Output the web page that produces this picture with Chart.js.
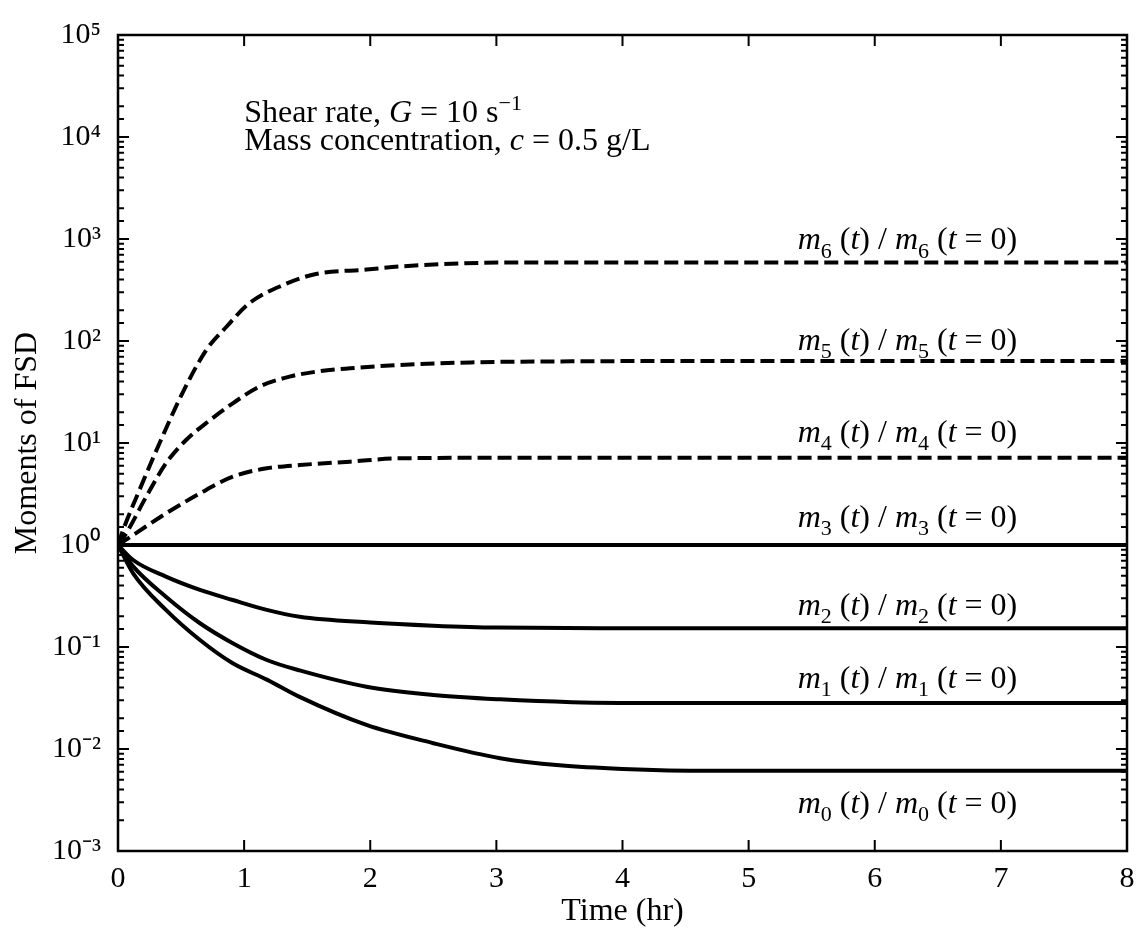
<!DOCTYPE html>
<html>
<head>
<meta charset="utf-8">
<script src="https://cdn.jsdelivr.net/npm/chart.js@4.4.1/dist/chart.umd.min.js"></script>
<style>
  html, body { margin:0; padding:0; background:#fff; }
  canvas { display:block; }
</style>
</head>
<body>
<canvas id="chart" width="1136" height="939"></canvas>
<script>
// time (hr) and moment ratio m_k(t)/m_k(0)
const m6T = [0, 0.04, 0.17, 0.33, 0.51, 0.70, 0.86, 1.04, 1.31, 1.57, 1.97, 2.23, 2.7, 3.2, 4, 5, 6, 7, 8];
const m6V = [1, 1.40, 3.46, 10.0, 30.7, 81.7, 138, 234, 354, 454, 501, 537, 575, 589, 589, 589, 589, 589, 589];
const m5T = [0, 0.065, 0.224, 0.38, 0.54, 0.73, 0.91, 1.12, 1.36, 1.57, 1.84, 2.23, 2.8, 3.5, 5, 8];
const m5V = [1, 1.30, 2.98, 6.31, 10.7, 16.8, 24.5, 35.6, 44.7, 50.0, 54.0, 58.2, 61.7, 63.1, 63.7, 63.7];
const m4T = [0, 0.14, 0.38, 0.65, 0.91, 1.18, 1.44, 1.84, 2.23, 3, 4, 8];
const m4V = [1, 1.30, 2.04, 3.21, 4.68, 5.65, 6.08, 6.56, 7.08, 7.16, 7.16, 7.16];
const m3T = [0, 8];
const m3V = [1, 1];
const m2T = [0, 0.12, 0.38, 0.65, 0.91, 1.18, 1.44, 2, 2.5, 3, 4, 8];
const m2V = [1, 0.713, 0.490, 0.363, 0.289, 0.231, 0.198, 0.174, 0.162, 0.155, 0.153, 0.153];
const m1T = [0, 0.12, 0.38, 0.65, 0.91, 1.18, 1.44, 1.97, 2.5, 3.03, 3.6, 4.5, 8];
const m1V = [1, 0.617, 0.311, 0.171, 0.109, 0.0746, 0.0589, 0.0408, 0.0339, 0.0307, 0.0288, 0.0282, 0.0282];
const m0T = [0, 0.12, 0.38, 0.65, 0.91, 1.18, 1.44, 1.97, 2.5, 3.03, 3.5, 4, 4.7, 8];
const m0V = [1, 0.528, 0.231, 0.117, 0.0692, 0.0479, 0.0324, 0.0172, 0.0114, 0.00813, 0.00692, 0.00638, 0.00612, 0.00612];

const xTicks = [0, 1, 2, 3, 4, 5, 6, 7, 8];
const yMin = 1e-3, yMax = 1e5;

const SERIF = "'Liberation Serif', 'Times New Roman', serif";
const tickFont = { family: SERIF, size: 30 };
const titleFont = { family: SERIF, size: 32 };
const TXT = 32;
const SUP = { '-':'\u207B', '0':'\u2070', '1':'\u00B9', '2':'\u00B2', '3':'\u00B3', '4':'\u2074', '5':'\u2075' };

const pts = (T, V) => T.map((t, i) => ({ x: t, y: V[i] }));
const series = [
  { k: 6, data: pts(m6T, m6V), dash: true,  lab: 794 },
  { k: 5, data: pts(m5T, m5V), dash: true,  lab: 81.7 },
  { k: 4, data: pts(m4T, m4V), dash: true,  lab: 10.2 },
  { k: 3, data: pts(m3T, m3V), dash: false, lab: 1.5 },
  { k: 2, data: pts(m2T, m2V), dash: false, lab: 0.206 },
  { k: 1, data: pts(m1T, m1V), dash: false, lab: 0.0396 },
  { k: 0, data: pts(m0T, m0V), dash: false, lab: 0.00236 },
];

// rich text: segments of {t, i (italic), sub, sup}
function segFont(s, size){
  const sz = (s.sub || s.sup) ? Math.round(size*0.68) : size;
  return (s.i ? 'italic ' : '') + sz + 'px ' + SERIF;
}
function richWidth(ctx, segs, size){
  let w = 0;
  segs.forEach(s => { ctx.font = segFont(s, size); w += ctx.measureText(s.t).width; });
  return w;
}
function drawRich(ctx, segs, x, y, size, align){
  if (align === 'right') x -= richWidth(ctx, segs, size);
  ctx.textBaseline = 'alphabetic';
  ctx.textAlign = 'left';
  segs.forEach(s => {
    ctx.font = segFont(s, size);
    let dy = 0;
    if (s.sub) dy = size*0.26;
    if (s.sup) dy = -size*0.38;
    ctx.fillText(s.t, x, y + dy);
    x += ctx.measureText(s.t).width;
  });
}
function momentLabel(k){
  return [
    { t:'m', i:1 }, { t:String(k), sub:1 }, { t:' (' }, { t:'t', i:1 }, { t:') / ' },
    { t:'m', i:1 }, { t:String(k), sub:1 }, { t:' (' }, { t:'t', i:1 }, { t:' = 0)' }
  ];
}
const noteLines = [
  { x: 1.0, y: 14000, segs: [{ t:'Shear rate, ' }, { t:'G', i:1 }, { t:' = 10 s' }, { t:'\u22121', sup:1 }] },
  { x: 1.0, y: 7460,  segs: [{ t:'Mass concentration, ' }, { t:'c', i:1 }, { t:' = 0.5 g/L' }] },
];
const labelRightT = 7.13;

const framePlugin = {
  id: 'frame',
  afterDatasetsDraw(chart){
    const { ctx, chartArea: a, scales: { x, y } } = chart;
    ctx.save();
    ctx.strokeStyle = '#000';
    ctx.fillStyle = '#000';
    ctx.lineWidth = 2.5;
    ctx.strokeRect(a.left, a.top, a.right - a.left, a.bottom - a.top);
    ctx.lineWidth = 2;
    ctx.beginPath();
    x.ticks.forEach(t => {
      const px = x.getPixelForValue(t.value);
      ctx.moveTo(px, a.bottom); ctx.lineTo(px, a.bottom - 11);
      ctx.moveTo(px, a.top);    ctx.lineTo(px, a.top + 11);
    });
    y.ticks.forEach(t => {
      const lg = Math.log10(t.value);
      const major = Math.abs(lg - Math.round(lg)) < 1e-9;
      const len = major ? 11 : 6;
      const py = y.getPixelForValue(t.value);
      ctx.moveTo(a.left, py);  ctx.lineTo(a.left + len, py);
      ctx.moveTo(a.right, py); ctx.lineTo(a.right - len, py);
    });
    ctx.stroke();

    noteLines.forEach(n => drawRich(ctx, n.segs, x.getPixelForValue(n.x), y.getPixelForValue(n.y), TXT, 'left'));
    const xr = x.getPixelForValue(labelRightT);
    series.forEach(s => drawRich(ctx, momentLabel(s.k), xr, y.getPixelForValue(s.lab), TXT, 'right'));
    ctx.restore();
  }
};

new Chart(document.getElementById('chart'), {
  type: 'line',
  data: {
    datasets: series.map(s => ({
      label: 'm' + s.k,
      data: s.data,
      borderColor: '#000',
      borderWidth: 4,
      borderDash: s.dash ? [14, 6] : [],
      pointRadius: 0,
      cubicInterpolationMode: 'monotone',
      fill: false,
    }))
  },
  options: {
    responsive: false,
    animation: false,
    layout: { padding: { top: 35, right: 0, left: 0, bottom: 0 } },
    plugins: { legend: { display: false }, tooltip: { enabled: false } },
    scales: {
      x: {
        type: 'linear', min: 0, max: 8,
        afterBuildTicks: s => { s.ticks = xTicks.map(v => ({ value: v })); },
        ticks: { color: '#000', font: tickFont, padding: 10, maxRotation: 0 },
        grid: { display: false, drawTicks: false },
        border: { display: false },
        title: { display: true, text: 'Time (hr)', color: '#000', font: titleFont, padding: { top: 0, bottom: 8 } },
        afterFit: s => { s.height = 88; s.paddingRight = 9; s.paddingLeft = 0; }
      },
      y: {
        type: 'logarithmic', min: yMin, max: yMax,
        ticks: {
          color: '#000', font: tickFont, padding: 17, autoSkip: false,
          callback: v => {
            const lg = Math.log10(v);
            if (Math.abs(lg - Math.round(lg)) > 1e-9) return '';
            return '10' + String(Math.round(lg)).split('').map(c => SUP[c]).join('');
          }
        },
        grid: { display: false, drawTicks: false },
        border: { display: false },
        title: { display: true, text: 'Moments of FSD', color: '#000', font: titleFont, padding: { top: 8, bottom: 0 } },
        afterFit: s => { s.width = 118; s.paddingTop = 0; s.paddingBottom = 0; }
      }
    }
  },
  plugins: [framePlugin]
});
</script>
</body>
</html>
